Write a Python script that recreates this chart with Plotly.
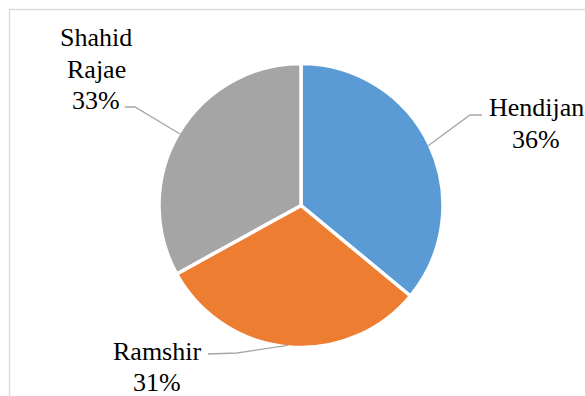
import math
import plotly.graph_objects as go

labels = ["Hendijan", "Ramshir", "Shahid Rajae"]
values = [36, 31, 33]
colors = ["#5B9BD5", "#ED7D31", "#A5A5A5"]
label_lines = [["Hendijan", "36%"], ["Ramshir", "31%"], ["Shahid", "Rajae", "33%"]]

W, H = 585, 396
cx, cy, R = 301, 205.5, 142
FONT = "Liberation Serif"

fig = go.Figure(go.Pie(
    labels=labels, values=values, sort=False, direction="clockwise", rotation=0,
    marker=dict(colors=colors, line=dict(color="white", width=3.5)),
    textinfo="none", hoverinfo="label+percent", showlegend=False,
    domain=dict(x=[(cx - R) / W, (cx + R) / W], y=[1 - (cy + R) / H, 1 - (cy - R) / H]),
))

# label centres (pixels: x, first-line y) and leader elbow points
label_pos = [(536, 108), (157, 351), (96, 38)]
line_gap = 31
elbows = [[(482, 115), (470, 115)], [(208, 354), (237, 353)], [(125, 107), (135, 107)]]

total = sum(values)
cum = 0
shapes = []
annotations = []
for i, v in enumerate(values):
    mid = (cum + v / 2) / total * 2 * math.pi
    cum += v
    ax = cx + (R - 1.5) * math.sin(mid)
    ay = cy - (R - 1.5) * math.cos(mid)
    pts = elbows[i] + [(ax, ay)]
    path = "M " + " L ".join(f"{x / W:.5f},{1 - y / H:.5f}" for x, y in pts)
    shapes.append(dict(type="path", xref="paper", yref="paper", path=path,
                       line=dict(color="#A6A6A6", width=1.3)))
    lx, ly = label_pos[i]
    for j, txt in enumerate(label_lines[i]):
        annotations.append(dict(x=lx / W, y=1 - (ly + j * line_gap) / H, xref="paper", yref="paper",
                                text=txt, showarrow=False, xanchor="center", yanchor="middle",
                                font=dict(family=FONT, size=26, color="black")))

# chart frame
shapes.append(dict(type="rect", xref="paper", yref="paper",
                   x0=9.5 / W, y0=-0.05, x1=1.05, y1=1 - 9.5 / H,
                   line=dict(color="#D9D9D9", width=1.3), fillcolor="rgba(0,0,0,0)"))

fig.update_layout(
    width=W, height=H, margin=dict(l=0, r=0, t=0, b=0),
    paper_bgcolor="white", plot_bgcolor="white",
    shapes=shapes, annotations=annotations,
)
fig.write_html("out.html", config={"displayModeBar": False},
               post_script="document.body.style.margin='0';document.body.style.overflow='hidden';")
